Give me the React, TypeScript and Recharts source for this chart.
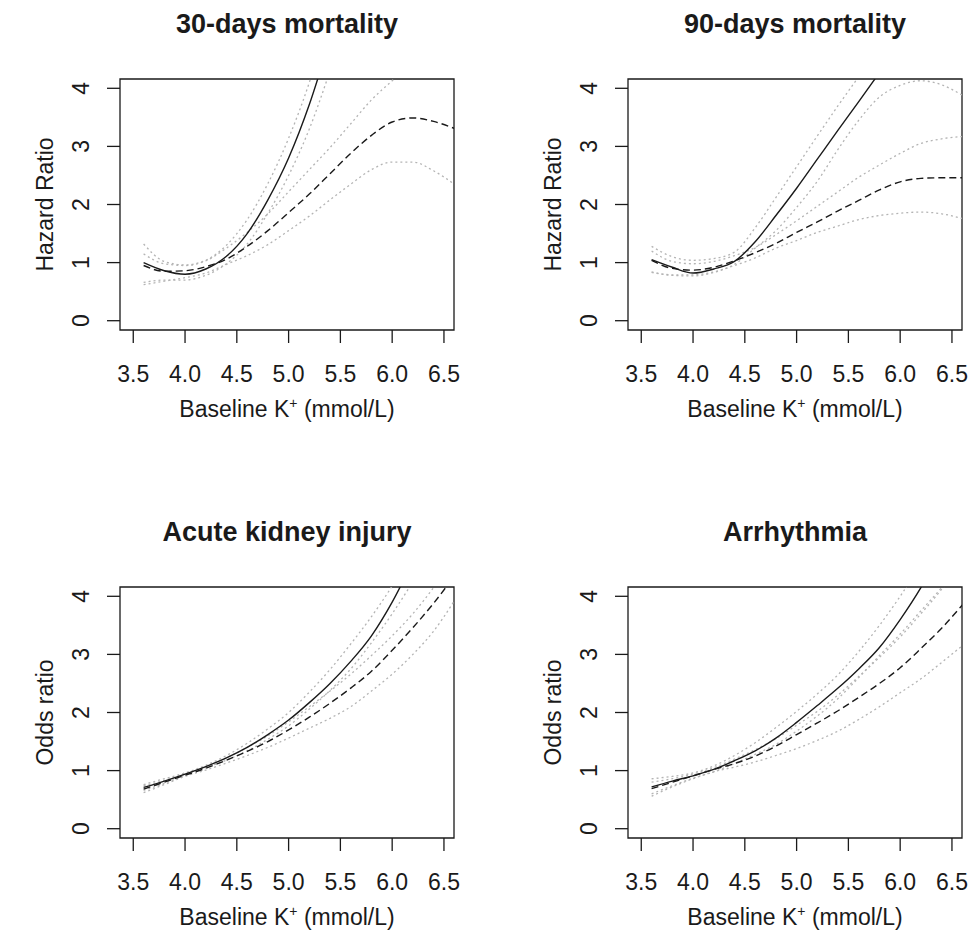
import React from "react";
import { LineChart, Line, XAxis, YAxis, ReferenceArea } from "recharts";

// potassium grid (mmol/L)
const kValues = [3.6, 3.8, 4.0, 4.2, 4.4, 4.6, 4.8, 5.0, 5.2, 5.4, 5.6, 5.8, 6.0, 6.2, 6.4, 6.6];
const xTicks = [3.5, 4.0, 4.5, 5.0, 5.5, 6.0, 6.5];
const yTicks = [0, 1, 2, 3, 4];

// 30-days mortality
const mort30Solid = [1.0, 0.86, 0.8, 0.89, 1.11, 1.5, 2.08, 2.8, 3.72, 4.85, null, null, null, null, null, null];
const mort30SolidHi = [1.32, 1.02, 0.96, 1.04, 1.3, 1.74, 2.36, 3.14, 4.1, 5.3, null, null, null, null, null, null];
const mort30SolidLo = [0.66, 0.7, 0.7, 0.78, 0.98, 1.32, 1.85, 2.5, 3.3, 4.3, null, null, null, null, null, null];
const mort30Dash = [0.95, 0.85, 0.86, 0.93, 1.06, 1.28, 1.55, 1.86, 2.18, 2.53, 2.88, 3.19, 3.42, 3.49, 3.43, 3.31];
const mort30DashHi = [1.15, 0.98, 0.95, 1.03, 1.25, 1.52, 1.84, 2.22, 2.6, 2.98, 3.39, 3.8, 4.13, 4.45, null, null];
const mort30DashLo = [0.62, 0.68, 0.74, 0.82, 0.97, 1.12, 1.31, 1.55, 1.8, 2.08, 2.35, 2.6, 2.73, 2.73, 2.58, 2.35];

// 90-days mortality
const mort90Solid = [1.05, 0.92, 0.82, 0.89, 1.02, 1.36, 1.81, 2.28, 2.78, 3.28, 3.77, 4.27, null, null, null, null];
const mort90SolidHi = [1.28, 1.1, 1.04, 1.07, 1.18, 1.6, 2.12, 2.65, 3.18, 3.7, 4.2, null, null, null, null, null];
const mort90SolidLo = [0.83, 0.78, 0.77, 0.83, 0.97, 1.25, 1.55, 1.95, 2.4, 2.95, 3.45, 3.85, 4.05, 4.13, 4.06, 3.88];
const mort90Dash = [1.04, 0.9, 0.87, 0.92, 1.03, 1.17, 1.33, 1.52, 1.7, 1.89, 2.07, 2.25, 2.39, 2.45, 2.46, 2.46];
const mort90DashHi = [1.2, 1.02, 0.98, 1.02, 1.12, 1.26, 1.48, 1.72, 1.97, 2.22, 2.47, 2.68, 2.88, 3.05, 3.13, 3.17];
const mort90DashLo = [0.84, 0.79, 0.79, 0.84, 0.95, 1.08, 1.25, 1.38, 1.52, 1.63, 1.74, 1.81, 1.85, 1.87, 1.84, 1.76];

// acute kidney injury
const akiSolid = [0.71, 0.82, 0.94, 1.07, 1.22, 1.4, 1.62, 1.87, 2.17, 2.5, 2.88, 3.32, 3.9, 4.6, null, null];
const akiSolidHi = [0.76, 0.86, 0.96, 1.09, 1.26, 1.47, 1.72, 2.0, 2.35, 2.74, 3.18, 3.65, 4.18, 4.8, null, null];
const akiSolidLo = [0.66, 0.78, 0.92, 1.05, 1.18, 1.34, 1.54, 1.77, 2.06, 2.38, 2.75, 3.2, 3.7, 4.25, null, null];
const akiDash = [0.68, 0.8, 0.92, 1.04, 1.18, 1.33, 1.5, 1.7, 1.92, 2.16, 2.42, 2.71, 3.07, 3.46, 3.88, 4.35];
const akiDashHi = [0.74, 0.83, 0.94, 1.07, 1.22, 1.4, 1.6, 1.84, 2.1, 2.37, 2.66, 2.98, 3.32, 3.7, 4.15, 4.65];
const akiDashLo = [0.62, 0.76, 0.9, 1.01, 1.13, 1.26, 1.4, 1.56, 1.73, 1.9, 2.1, 2.37, 2.66, 3.0, 3.4, 3.92];

// arrhythmia
const arrSolid = [0.72, 0.82, 0.91, 1.02, 1.17, 1.34, 1.56, 1.83, 2.12, 2.42, 2.75, 3.12, 3.6, 4.15, 4.8, null];
const arrSolidHi = [0.86, 0.9, 0.96, 1.08, 1.26, 1.48, 1.74, 2.02, 2.32, 2.65, 3.05, 3.5, 4.0, 4.55, null, null];
const arrSolidLo = [0.6, 0.74, 0.87, 0.98, 1.12, 1.28, 1.45, 1.68, 1.94, 2.24, 2.6, 2.98, 3.35, 3.75, 4.15, 4.6];
const arrDash = [0.69, 0.8, 0.91, 1.02, 1.12, 1.25, 1.42, 1.62, 1.82, 2.03, 2.26, 2.5, 2.77, 3.1, 3.45, 3.85];
const arrDashHi = [0.8, 0.86, 0.94, 1.05, 1.2, 1.36, 1.55, 1.78, 2.02, 2.3, 2.62, 2.95, 3.3, 3.7, 4.12, 4.6];
const arrDashLo = [0.56, 0.72, 0.86, 0.98, 1.06, 1.15, 1.26, 1.38, 1.52, 1.68, 1.88, 2.1, 2.34, 2.58, 2.86, 3.15];

const xDomain = [3.372, 6.597];
const yDomain = [-0.16, 4.16];

const FONT = '"Liberation Sans", Arial, sans-serif';
const INK = "#1a1a1a";
const GREY = "#b4b4b4";

const CHART_W = 463;
const CHART_H = 422;
// axes get 1px of room each, the rest of the plot box comes from the margin
const MARGIN = { top: 79, right: 9, bottom: 91, left: 119 };

const panels = [
  { title: "30-days mortality", yLabel: "Hazard Ratio", left: 0, top: 0,
    solid: mort30Solid, solidHi: mort30SolidHi, solidLo: mort30SolidLo, dash: mort30Dash, dashHi: mort30DashHi, dashLo: mort30DashLo },
  { title: "90-days mortality", yLabel: "Hazard Ratio", left: 508, top: 0,
    solid: mort90Solid, solidHi: mort90SolidHi, solidLo: mort90SolidLo, dash: mort90Dash, dashHi: mort90DashHi, dashLo: mort90DashLo },
  { title: "Acute kidney injury", yLabel: "Odds ratio", left: 0, top: 508,
    solid: akiSolid, solidHi: akiSolidHi, solidLo: akiSolidLo, dash: akiDash, dashHi: akiDashHi, dashLo: akiDashLo },
  { title: "Arrhythmia", yLabel: "Odds ratio", left: 508, top: 508,
    solid: arrSolid, solidHi: arrSolidHi, solidLo: arrSolidLo, dash: arrDash, dashHi: arrDashHi, dashLo: arrDashLo },
];

const XTick = (props: any) => (
  <text x={props.x} y={props.y + 37} textAnchor="middle" fontSize={23} fill={INK} fontFamily={FONT}>
    {Number(props.payload.value).toFixed(1)}
  </text>
);

const YTick = (props: any) => (
  <text
    transform={`translate(${props.x - 16.5},${props.y}) rotate(-90)`}
    textAnchor="middle"
    fontSize={23}
    fill={INK}
    fontFamily={FONT}
  >
    {props.payload.value}
  </text>
);

function Panel({ p }: { p: any }) {
  const rows = kValues.map((k, i) => ({
    k,
    solid: p.solid[i],
    solidHi: p.solidHi[i],
    solidLo: p.solidLo[i],
    dash: p.dash[i],
    dashHi: p.dashHi[i],
    dashLo: p.dashLo[i],
  }));
  const plotLeft = MARGIN.left + 1;
  const plotCx = plotLeft + (CHART_W - plotLeft - MARGIN.right) / 2;
  const plotCy = MARGIN.top + (CHART_H - MARGIN.top - MARGIN.bottom - 1) / 2;
  const ci = { stroke: GREY, strokeWidth: 1.3, strokeDasharray: "2 3", dot: false, activeDot: false, isAnimationActive: false, type: "monotone" as const };

  return (
    <div style={{ position: "absolute", left: p.left, top: p.top, width: CHART_W, height: CHART_H }}>
      <LineChart width={CHART_W} height={CHART_H} data={rows} margin={MARGIN}>
        <XAxis
          type="number"
          dataKey="k"
          domain={xDomain}
          ticks={xTicks}
          allowDataOverflow
          height={1}
          axisLine={false}
          tickSize={13}
          tickMargin={2}
          tickLine={{ stroke: INK, strokeWidth: 1.3 }}
          tick={XTick}
        />
        <YAxis
          type="number"
          domain={yDomain}
          ticks={yTicks}
          allowDataOverflow
          width={1}
          axisLine={false}
          tickSize={13}
          tickMargin={2}
          tickLine={{ stroke: INK, strokeWidth: 1.3 }}
          tick={YTick}
        />
        <Line dataKey="solidHi" {...ci} />
        <Line dataKey="solidLo" {...ci} />
        <Line dataKey="dashHi" {...ci} />
        <Line dataKey="dashLo" {...ci} />
        <Line dataKey="dash" type="monotone" stroke={INK} strokeWidth={1.4} strokeDasharray="7 4" dot={false} activeDot={false} isAnimationActive={false} />
        <Line dataKey="solid" type="monotone" stroke={INK} strokeWidth={1.4} dot={false} activeDot={false} isAnimationActive={false} />
        <ReferenceArea
          x1={xDomain[0]}
          x2={xDomain[1]}
          y1={yDomain[0]}
          y2={yDomain[1]}
          fill="none"
          fillOpacity={0}
          stroke={INK}
          strokeWidth={1.3}
          ifOverflow="visible"
        />
      </LineChart>
      <svg width={CHART_W} height={CHART_H + 10} style={{ position: "absolute", left: 0, top: 0, pointerEvents: "none", overflow: "visible" }}>
        <text x={plotCx} y={33} textAnchor="middle" fontSize={27} fontWeight="bold" fill={INK} fontFamily={FONT}>
          {p.title}
        </text>
        <text x={plotCx} y={417} textAnchor="middle" fontSize={23} fill={INK} fontFamily={FONT}>
          Baseline K<tspan dy={-9} fontSize={14}>+</tspan>
          <tspan dy={9}> (mmol/L)</tspan>
        </text>
        <text transform={`translate(53,${plotCy}) rotate(-90)`} textAnchor="middle" fontSize={23} fill={INK} fontFamily={FONT}>
          {p.yLabel}
        </text>
      </svg>
    </div>
  );
}

export default function App() {
  return (
    <div style={{ position: "absolute", left: 0, top: 0, width: 971, height: 930, background: "#fff", overflow: "hidden" }}>
      {panels.map((p) => (
        <Panel key={p.title} p={p} />
      ))}
    </div>
  );
}
